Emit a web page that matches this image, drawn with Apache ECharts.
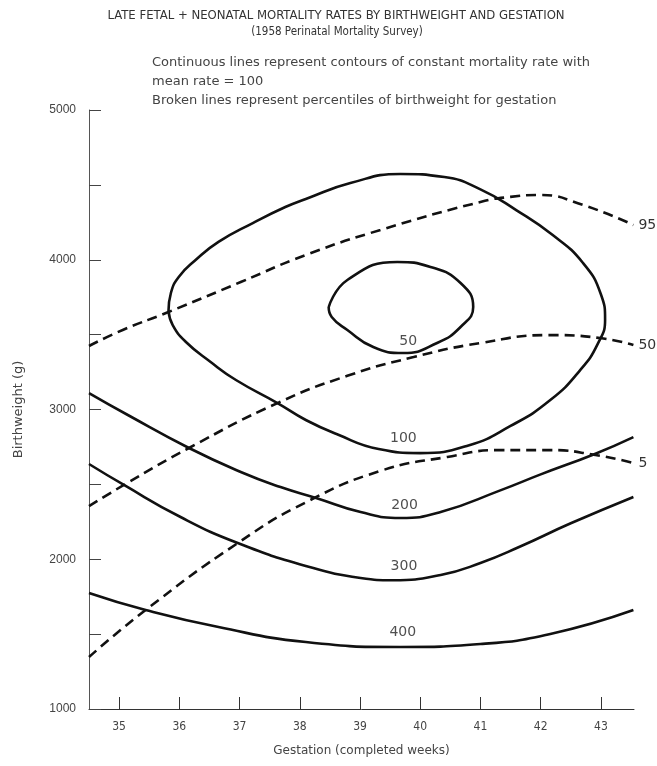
<!DOCTYPE html>
<html>
<head>
<meta charset="utf-8">
<script src="https://cdn.jsdelivr.net/npm/echarts@6/dist/echarts.min.js"></script>
<style>
  html, body { margin: 0; padding: 0; background: #fff; }
  #chart { width: 657px; height: 766px; }
</style>
</head>
<body>
<div id="chart"></div>
<script>
// contours of constant mortality rate (gestation weeks, birthweight g)
const contour50 = [
  [38.48, 3684], [38.79, 3865], [39.62, 3985], [40.17, 3952], [40.67, 3845],
  [40.88, 3684], [40.67, 3551], [40.28, 3444], [39.72, 3377], [39.22, 3417],
  [38.79, 3531], [38.53, 3618], [38.48, 3684]
]
const contour100 = [
  [35.82, 3658], [35.86, 3778], [35.99, 3885], [36.27, 3998], [36.65, 4119],
  [37.22, 4245], [37.76, 4352], [38.10, 4406], [38.84, 4512], [39.67, 4573],
  [40.40, 4552], [41.00, 4470], [41.60, 4330], [42.20, 4165], [42.70, 3980],
  [43.00, 3770], [43.07, 3600], [42.95, 3440], [42.65, 3260], [42.16, 3063],
  [41.50, 2890], [40.80, 2760], [40.00, 2709], [39.31, 2736], [38.61, 2836],
  [38.10, 2930], [37.63, 3043], [36.94, 3197], [36.52, 3317], [36.11, 3451],
  [35.89, 3564], [35.82, 3658]
]
const contour200 = [
  [34.50, 3110], [35.16, 2960], [36.16, 2743], [37.02, 2583], [37.68, 2482],
  [38.27, 2409], [39.01, 2315], [39.67, 2275], [40.34, 2315], [41.33, 2460],
  [41.99, 2565], [42.91, 2705], [43.54, 2816]
]
const contour300 = [
  [34.50, 2636], [35.08, 2496], [36.02, 2282], [36.97, 2108], [38.10, 1955],
  [39.01, 1875], [39.55, 1860], [40.34, 1895], [41.00, 1975], [41.66, 2085],
  [42.50, 2240], [43.54, 2416]
]
const contour400 = [
  [34.50, 1775], [35.44, 1661], [36.65, 1547], [38.10, 1447], [39.67, 1414],
  [41.00, 1434], [42.16, 1501], [43.54, 1661]
]

// percentiles of birthweight for gestation
const pct95 = [
  [34.50, 3424], [35.06, 3531], [35.82, 3651], [37.02, 3851], [38.10, 4032],
  [39.34, 4199], [41.00, 4386], [41.50, 4420], [41.99, 4432], [42.70, 4366],
  [43.54, 4232]
]
const pct50 = [
  [34.50, 2355], [35.08, 2496], [36.16, 2743], [37.63, 3043], [38.79, 3225],
  [39.89, 3350], [41.00, 3444], [42.16, 3497], [42.99, 3477], [43.54, 3431]
]
const pct5 = [
  [34.50, 1347], [35.44, 1661], [36.97, 2108], [38.10, 2380], [39.34, 2590],
  [40.45, 2683], [41.33, 2729], [42.16, 2729], [42.91, 2696], [43.54, 2643]
]

// labels sitting on the contours
const contourLabelText = ['50', '100', '200', '300', '400']
const contourLabelX = [39.80, 39.72, 39.74, 39.73, 39.71]
const contourLabelY = [3453, 2808, 2362, 1950, 1514]

const weekTicks = [35, 36, 37, 38, 39, 40, 41, 42, 43]

const chart = echarts.init(document.getElementById('chart'))

function contourLine(name, data) {
  return {
    name: name,
    type: 'line',
    data: data,
    smooth: 0.5,
    showSymbol: false,
    silent: true,
    lineStyle: { color: '#111', width: 2.6 }
  }
}

function pctLine(name, data) {
  return {
    name: name,
    type: 'line',
    data: data,
    smooth: 0.5,
    showSymbol: false,
    silent: true,
    lineStyle: { color: '#111', width: 2.6, type: [10, 6] },
    endLabel: {
      show: true,
      formatter: name,
      color: '#333',
      fontSize: 14,
      distance: 5,
      fontFamily: 'DejaVu Sans'
    }
  }
}

const labelData = contourLabelText.map((t, i) => [contourLabelX[i], contourLabelY[i], t])

const option = {
  backgroundColor: '#fff',
  animation: false,
  title: [
    {
      text: 'LATE FETAL + NEONATAL MORTALITY RATES BY BIRTHWEIGHT AND GESTATION',
      left: 331, top: 4, textAlign: 'center',
      textStyle: { fontSize: 13, fontWeight: 'normal', color: '#333', fontFamily: 'Liberation Sans Narrow, DejaVu Sans Condensed, sans-serif' }
    },
    {
      text: '(1958 Perinatal Mortality Survey)',
      left: 332, top: 21, textAlign: 'center',
      textStyle: { fontSize: 11.5, fontWeight: 'normal', color: '#333', fontFamily: 'Liberation Sans Narrow, DejaVu Sans Condensed, sans-serif' }
    },
    {
      text: 'Continuous lines represent contours of constant mortality rate with\nmean rate = 100\nBroken lines represent percentiles of birthweight for gestation',
      left: 147, top: 48,
      textStyle: { fontSize: 13, fontWeight: 'normal', color: '#444', lineHeight: 19, fontFamily: 'DejaVu Sans, sans-serif' }
    }
  ],
  grid: {
    left: 89, right: 23, top: 110, bottom: 57,
    outerBoundsMode: 'none'
  },
  xAxis: {
    type: 'value',
    min: 34.5,
    max: 43.55,
    name: 'Gestation (completed weeks)',
    nameLocation: 'middle',
    nameGap: 36,
    nameTextStyle: { fontSize: 12, color: '#444', fontFamily: 'DejaVu Sans, sans-serif' },
    splitLine: { show: false },
    axisLine: { show: true, lineStyle: { color: '#333', width: 1 } },
    axisTick: { show: true, inside: true, length: 12, customValues: weekTicks, lineStyle: { color: '#333' } },
    axisLabel: { customValues: weekTicks, margin: 12, fontSize: 12, color: '#444', fontFamily: 'Liberation Sans Narrow, DejaVu Sans Condensed, sans-serif' }
  },
  yAxis: {
    type: 'value',
    min: 1000,
    max: 5000,
    interval: 500,
    name: 'Birthweight (g)',
    nameLocation: 'middle',
    nameGap: 64,
    nameTextStyle: { fontSize: 13, color: '#444', fontFamily: 'DejaVu Sans, sans-serif' },
    splitLine: { show: false },
    axisLine: { show: true, lineStyle: { color: '#555', width: 1 } },
    axisTick: { show: true, inside: true, length: 12, lineStyle: { color: '#444' } },
    axisLabel: {
      margin: 13, fontSize: 12, color: '#444', fontFamily: 'Liberation Sans, sans-serif',
      formatter: v => (v % 1000 === 0 ? String(v) : '')
    }
  },
  series: [
    contourLine('contour 50', contour50),
    contourLine('contour 100', contour100),
    contourLine('contour 200', contour200),
    contourLine('contour 300', contour300),
    contourLine('contour 400', contour400),
    pctLine('95', pct95),
    pctLine('50', pct50),
    pctLine('5', pct5),
    {
      name: 'labels',
      type: 'scatter',
      data: labelData,
      symbolSize: 0,
      silent: true,
      label: {
        show: true,
        position: 'inside',
        formatter: p => p.value[2],
        color: '#222',
        fontSize: 14,
        fontFamily: 'DejaVu Sans, sans-serif'
      }
    }
  ]
}

chart.setOption(option)
</script>
</body>
</html>
